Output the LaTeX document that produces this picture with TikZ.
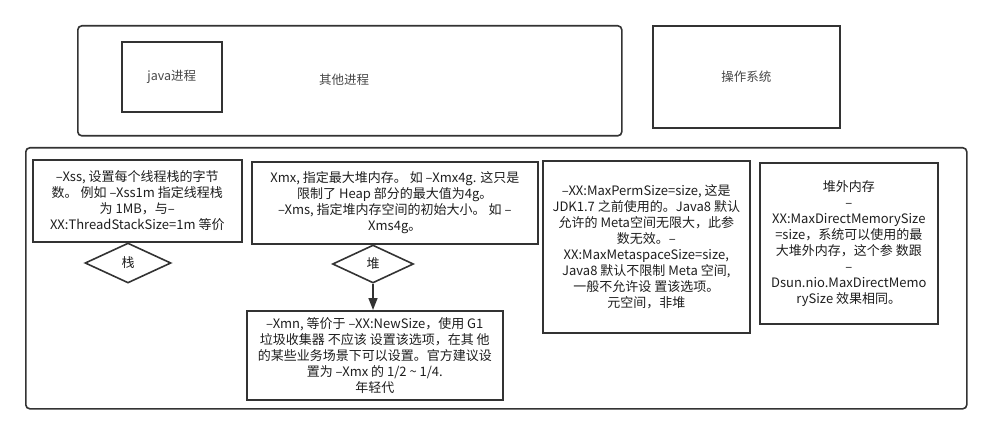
\documentclass[tikz,border=0pt]{standalone}
\usepackage{fontspec}
\setmainfont{Noto Sans CJK SC}
\usetikzlibrary{arrows.meta,positioning,shapes.geometric}
\definecolor{linegray}{RGB}{51,51,51}
\definecolor{textgray}{RGB}{30,30,30}
\definecolor{labelgray}{RGB}{70,70,70}

\begin{document}
\begin{tikzpicture}[
  x=1pt, y=-1pt,
  font=\fontsize{13}{16}\selectfont,
  >={Triangle[length=12pt,width=9pt]},
  frame/.style={draw=linegray, line width=1.6pt, rounded corners=4pt, anchor=north west, inner sep=0pt},
  box/.style={draw=linegray, line width=1.6pt, anchor=north west, inner sep=0pt, align=center, text=textgray},
  tag/.style={font=\fontsize{12.5}{14}\selectfont, text=labelgray},
  decide/.style={diamond, aspect=2, draw=linegray, line width=1.6pt, inner sep=0pt, text=textgray},
  flow/.style={->, draw=linegray, line width=1.6pt}
]
\useasboundingbox (0,0) rectangle (991,433);

% Processes and OS
\node[frame, minimum width=544pt, minimum height=110pt] (procs) at (77,25) {};
\node[box, minimum width=100pt, minimum height=70pt] (javaproc) at (121,41) {};
\node[tag] (lbljava) at (javaproc.center) {java进程};
\node[tag] (lblother) at (344,80) {其他进程};
\node[box, minimum width=187pt, minimum height=102pt] (os) at (652,25) {};
\node[tag] (lblos) at (os.center) {操作系统};

% JVM memory container
\node[frame, minimum width=941pt, minimum height=261pt] (jvm) at (25,147) {};

% Stack
\node[box, minimum width=209pt, minimum height=82pt] (stack) at (32,159) {%
  –Xss, 设置每个线程栈的字节\\
  数。 例如 –Xss1m 指定线程栈\\
  为 1MB，与–\\
  XX:ThreadStackSize=1m 等价};
\node[decide, minimum width=86pt, minimum height=40pt] (stackd) at (128,263) {栈};

% Heap
\node[box, minimum width=286pt, minimum height=82pt] (heap) at (251,161) {%
  Xmx, 指定最大堆内存。 如 –Xmx4g. 这只是\\
  限制了 Heap 部分的最大值为4g。\\
  –Xms, 指定堆内存空间的初始大小。 如 –\\
  Xms4g。};
\node[decide, minimum width=81pt, minimum height=38pt] (heapd) at (373,264) {堆};
\node[box, minimum width=256pt, minimum height=89pt] (young) at (246,310) {%
  –Xmn, 等价于 –XX:NewSize，使用 G1\\
  垃圾收集器 不应该 设置该选项，在其 他\\
  的某些业务场景下可以设置。官方建议设\\
  置为 –Xmx 的 1/2 \textasciitilde{} 1/4.\\
  年轻代};
\draw[flow] (heapd.south) -- (heapd.south |- young.north);

% Metaspace
\node[box, minimum width=207pt, minimum height=172pt] (meta) at (542,160) {%
  –XX:MaxPermSize=size, 这是\\
  JDK1.7 之前使用的。Java8 默认\\
  允许的 Meta空间无限大，此参\\
  数无效。–\\
  XX:MaxMetaspaceSize=size,\\
  Java8 默认不限制 Meta 空间,\\
  一般不允许设 置该选项。\\
  元空间，非堆};

% Direct memory
\node[box, minimum width=178pt, minimum height=161pt] (direct) at (759,162) {%
  堆外内存\\
  –\\
  XX:MaxDirectMemorySize\\
  =size，系统可以使用的最\\
  大堆外内存，这个参 数跟\\
  –\\
  Dsun.nio.MaxDirectMemo\\
  rySize 效果相同。};

\end{tikzpicture}
\end{document}
